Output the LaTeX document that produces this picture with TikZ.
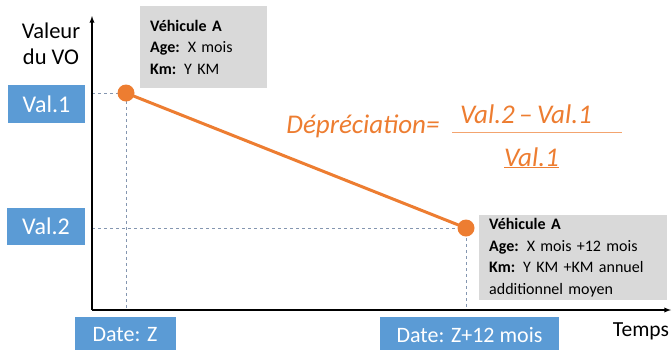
\documentclass[tikz,border=0pt]{standalone}
\usepackage{fontspec}
\setmainfont{Carlito}
\usetikzlibrary{positioning}
\definecolor{vobleu}{HTML}{5B9BD5}
\definecolor{voorange}{HTML}{ED7D31}
\definecolor{vogris}{HTML}{D9D9D9}
\definecolor{voguide}{HTML}{8496B0}
\begin{document}
\begin{tikzpicture}[x=1pt,y=-1pt,
    valbox/.style={fill=vobleu,text=white,inner sep=0pt,font=\fontsize{24}{28}\selectfont},
    infobox/.style={fill=vogris,anchor=north west,align=left,inner xsep=10pt,font=\fontsize{16}{21.5}\selectfont},
    guide/.style={voguide,dashed,line width=0.8pt},
    point/.style={circle,fill=voorange,inner sep=0pt,minimum size=17pt}]
  \useasboundingbox (0,0) rectangle (672,349);
  % axes
  \coordinate (O) at (92,310);
  \coordinate (ytop) at (92,16);
  \coordinate (xend) at (671,310);
  \coordinate (c1) at (126,93);
  \coordinate (c2) at (466,228);
  \draw[guide] (O |- c1) -- (c1) -- (c1 |- O);
  \draw[guide] (O |- c2) -- (c2) -- (c2 |- O);
  \draw[-latex,line width=1.3pt] (O) -- (ytop);
  \draw[-latex,line width=1.3pt] (O) -- (xend);
  \draw[voorange,line width=3pt] (c1) -- (c2);
  \node[point] (p1) at (c1) {};
  \node[point] (p2) at (c2) {};
  % labels on the axes
  \node[align=center,font=\fontsize{22.5}{26}\selectfont] (valeur) at (51,44) {Valeur\\du VO};
  \node[font=\fontsize{21.5}{24}\selectfont] (temps) at (641,331) {Temps};
  \node[valbox,minimum width=77pt,minimum height=38pt] (val1) at (46.5,104) {Val.1};
  \node[valbox,minimum width=78pt,minimum height=37pt] (val2) at (46,226.5) {Val.2};
  \node[valbox,minimum width=101pt,minimum height=36pt,font=\fontsize{22}{26}\selectfont] (date1) at (125,335) {Date: Z};
  \node[valbox,minimum width=179pt,minimum height=36pt,font=\fontsize{22}{26}\selectfont] (date2) at (469.5,335) {Date: Z+12 mois};
  % vehicle boxes
  \node[infobox,text width=107pt,minimum height=82pt] (veh1) at (140,6)
    {\textbf{Véhicule A}\\\textbf{Age:} X mois\\\textbf{Km:} Y KM};
  \node[infobox,text width=168pt,minimum height=83pt] (veh2) at (479,215)
    {\textbf{Véhicule A}\\\textbf{Age:} X mois +12 mois\\\textbf{Km:} Y KM +KM annuel\\additionnel moyen};
  % formula
  \node[voorange,anchor=base east,font=\fontsize{27}{30}\itshape] (depr) at (443,133) {Dépréciation=};
  \node[voorange,anchor=base,font=\fontsize{27}{30}\itshape] (num) at (526,123) {Val.2\,--\,Val.1};
  \node[voorange,anchor=base,font=\fontsize{27}{30}\itshape] (den) at (531.5,166) {\underline{Val.1}};
  \coordinate (fl) at (452,132);
  \coordinate (fr) at (622,132);
  \draw[voorange!70,line width=0.9pt] (fl) -- (fr);
\end{tikzpicture}
\end{document}
